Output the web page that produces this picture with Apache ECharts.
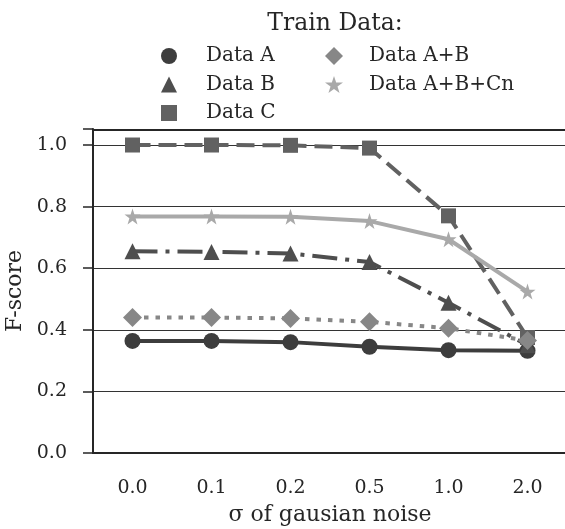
<!DOCTYPE html>
<html><head><meta charset="utf-8">
<script src="https://cdn.jsdelivr.net/npm/echarts@6/dist/echarts.min.js"></script>
<style>html,body{margin:0;padding:0;background:#fff}#c{width:565px;height:529px}</style>
</head><body><div id="c"></div>
<script>
const categories = ['0.0','0.1','0.2','0.5','1.0','2.0'];
const yTicks = [0.0,0.2,0.4,0.6,0.8,1.0];
const dataA = [0.364,0.364,0.360,0.345,0.334,0.332];
const dataB = [0.655,0.653,0.648,0.620,0.488,0.350];
const dataC = [1.000,1.000,0.999,0.990,0.770,0.375];
const dataAB = [0.440,0.440,0.437,0.426,0.405,0.365];
const dataABCn = [0.768,0.768,0.767,0.753,0.694,0.524];

const FONT = 'DejaVu Serif';
const TXT = '#262626';
const star = 'path://M50,0 L61.8,35.4 L99,35.4 L69,57.3 L80.3,92.7 L50,70.8 L19.7,92.7 L31,57.3 L1,35.4 L38.2,35.4 Z';

const seriesDefs = [
  {name:'Data A', data:dataA, color:'#3d3d3d', symbol:'circle', size:16, line:'solid'},
  {name:'Data B', data:dataB, color:'#4e4e4e', symbol:'triangle', size:16, line:[25,8,4,8]},
  {name:'Data C', data:dataC, color:'#616161', symbol:'rect', size:15, line:[18,8]},
  {name:'Data A+B', data:dataAB, color:'#878787', symbol:'diamond', size:19, line:[4.5,7]},
  {name:'Data A+B+Cn', data:dataABCn, color:'#a9a9a9', symbol:star, size:16, line:'solid'}
];

const legendText = {fontFamily:FONT, fontSize:20, color:TXT, lineHeight:20, padding:[0,0,0,24]};

const chart = echarts.init(document.getElementById('c'));
chart.setOption({
  animation:false,
  backgroundColor:'#fff',
  title:{text:'Train Data:', left:330, top:7, textAlign:'center',
    textStyle:{fontFamily:FONT, fontSize:23.5, fontWeight:'normal', color:TXT}},
  legend:[
    {left:161, top:46, orient:'vertical', itemGap:8.5, itemWidth:16, itemHeight:16, padding:0,
     textStyle:legendText,
     data:seriesDefs.slice(0,3).map(s=>({name:s.name, icon:s.symbol}))},
    {left:325, top:46, orient:'vertical', itemGap:8.5, itemWidth:18, itemHeight:18, padding:0,
     textStyle:Object.assign({}, legendText, {padding:[0,0,0,21]}),
     data:seriesDefs.slice(3).map(s=>({name:s.name, icon:s.symbol}))}
  ],
  grid:{left:93, top:129, width:474, height:324, containLabel:false, outerBoundsMode:'none'},
  xAxis:{type:'category', data:categories, boundaryGap:true,
    name:'σ of gausian noise', nameLocation:'middle', nameGap:51,
    nameTextStyle:{fontFamily:FONT, fontSize:22, color:TXT},
    axisLine:{lineStyle:{color:TXT, width:2}},
    axisTick:{alignWithLabel:true, length:10, lineStyle:{color:TXT, width:1.5}},
    axisLabel:{fontFamily:FONT, fontSize:19, color:TXT, margin:26},
    splitLine:{show:false}},
  yAxis:{type:'value', min:0, max:1.052, interval:0.2,
    name:'F-score', nameLocation:'middle', nameGap:64,
    nameTextStyle:{fontFamily:FONT, fontSize:22, color:TXT},
    axisLine:{show:true, lineStyle:{color:TXT, width:2}},
    axisTick:{show:true, length:10, lineStyle:{color:TXT, width:1.5}},
    axisLabel:{fontFamily:FONT, fontSize:19, color:TXT, margin:26,
      formatter:v=> (yTicks.some(t=>Math.abs(t-v)<1e-6) ? v.toFixed(1) : '')},
    splitLine:{show:true, lineStyle:{color:'#333', width:1}}},
  series:seriesDefs.map(s=>({
    name:s.name, type:'line', data:s.data, symbol:s.symbol, symbolSize:s.size,
    showSymbol:true,
    itemStyle:{color:s.color, opacity:1},
    lineStyle:{color:s.color, width:4, type:s.line},
    emphasis:{disabled:true}
  })).concat([{
    type:'line', data:[], markLine:{silent:true, symbol:'none', label:{show:false},
      lineStyle:{color:TXT, width:2, type:'solid'},
      data:[{yAxis:1.052}]}
  }])
});
</script></body></html>
